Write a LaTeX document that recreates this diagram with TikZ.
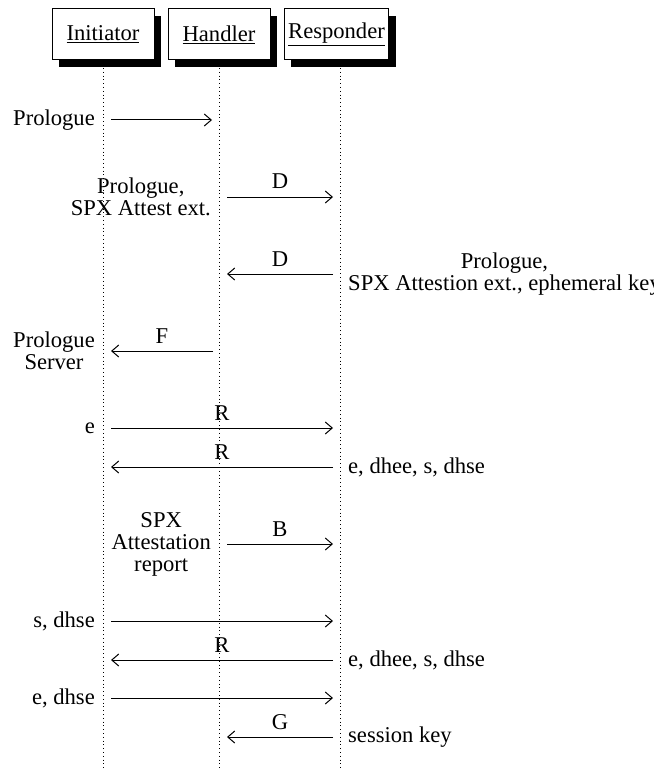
\documentclass[tikz,border=0pt]{standalone}
\usepackage{fontspec}
\setmainfont{Liberation Serif}
\usetikzlibrary{arrows.meta,shadows}
\begin{document}
\begin{tikzpicture}[x=1pt,y=-1pt,
  every node/.style={font=\fontsize{22.6}{22}\selectfont, inner sep=0pt},
  actor/.style={draw, line width=1pt, fill=white, minimum width=102pt, minimum height=51pt,
    inner xsep=4pt, general shadow={fill=black, shadow xshift=7pt, shadow yshift=-7pt}},
  life/.style={line width=0.8pt, dash pattern=on 0.8pt off 3pt},
  msg/.style={line width=1pt, -{Straight Barb[length=7pt,width=12pt,line width=1pt]}},
  toplbl/.style={anchor=base, yshift=8pt},
  leftlbl/.style={anchor=east, align=center},
  rightlbl/.style={anchor=west, align=center}]
\useasboundingbox (0,0) rectangle (653,770);

% actors
\node[actor] (I) at (103,34.5) {\underline{Initiator}};
\node[actor] (H) at (219,34.5) {\underline{Handler}};
\node[actor] (R) at (336.5,34.5) {\underline{Responder}};

% lifelines
\coordinate (Itop) at (103,68);  \coordinate (Ibot) at (103,770);
\coordinate (Htop) at (219,68);  \coordinate (Hbot) at (219,770);
\coordinate (Rtop) at (340,68);  \coordinate (Rbot) at (340,770);
\draw[life] (Itop) -- (Ibot);
\draw[life] (Htop) -- (Hbot);
\draw[life] (Rtop) -- (Rbot);

% message rows
\foreach \n/\y in {1/120,2/197,3/274,4/351,5/428,6/467,7/544,8/621,9/660,10/698,11/737}{
  \coordinate (i\n) at (103,\y);
  \coordinate (h\n) at (219,\y);
  \coordinate (r\n) at (340,\y);
}

% 1
\draw[msg] ([xshift=8pt]i1) -- ([xshift=-7pt]h1);
\node[leftlbl] (t1) at ([xshift=-8pt]i1) {Prologue};
% 2
\draw[msg] ([xshift=8pt]h2) -- node[toplbl] (m2) {D} ([xshift=-7pt]r2);
\node[leftlbl] (t2) at ([xshift=-8pt]h2) {Prologue,\\SPX Attest ext.};
% 3
\draw[msg] ([xshift=-7pt]r3) -- node[toplbl] (m3) {D} ([xshift=8pt]h3);
\node[rightlbl] (t3) at ([xshift=8pt]r3) {Prologue,\\SPX Attestion ext., ephemeral key};
% 4
\draw[msg] ([xshift=-6pt]h4) -- node[toplbl] (m4) {F} ([xshift=8pt]i4);
\node[leftlbl] (t4) at ([xshift=-8pt]i4) {Prologue\\Server};
% 5
\draw[msg] ([xshift=8pt]i5) -- node[toplbl] (m5) {R} ([xshift=-7pt]r5);
\node[leftlbl] (t5) at ([xshift=-8pt]i5) {e};
% 6
\draw[msg] ([xshift=-7pt]r6) -- node[toplbl] (m6) {R} ([xshift=8pt]i6);
\node[rightlbl] (t6) at ([xshift=8pt]r6) {e, dhee, s, dhse};
% 7
\draw[msg] ([xshift=8pt]h7) -- node[toplbl] (m7) {B} ([xshift=-7pt]r7);
\node[leftlbl] (t7) at ([xshift=-8pt]h7) {SPX\\Attestation\\report};
% 8
\draw[msg] ([xshift=8pt]i8) -- ([xshift=-7pt]r8);
\node[leftlbl] (t8) at ([xshift=-8pt]i8) {s, dhse};
% 9
\draw[msg] ([xshift=-7pt]r9) -- node[toplbl] (m9) {R} ([xshift=8pt]i9);
\node[rightlbl] (t9) at ([xshift=8pt]r9) {e, dhee, s, dhse};
% 10
\draw[msg] ([xshift=8pt]i10) -- ([xshift=-7pt]r10);
\node[leftlbl] (t10) at ([xshift=-8pt]i10) {e, dhse};
% 11
\draw[msg] ([xshift=-7pt]r11) -- node[toplbl] (m11) {G} ([xshift=8pt]h11);
\node[rightlbl] (t11) at ([xshift=8pt]r11) {session key};
\end{tikzpicture}
\end{document}
